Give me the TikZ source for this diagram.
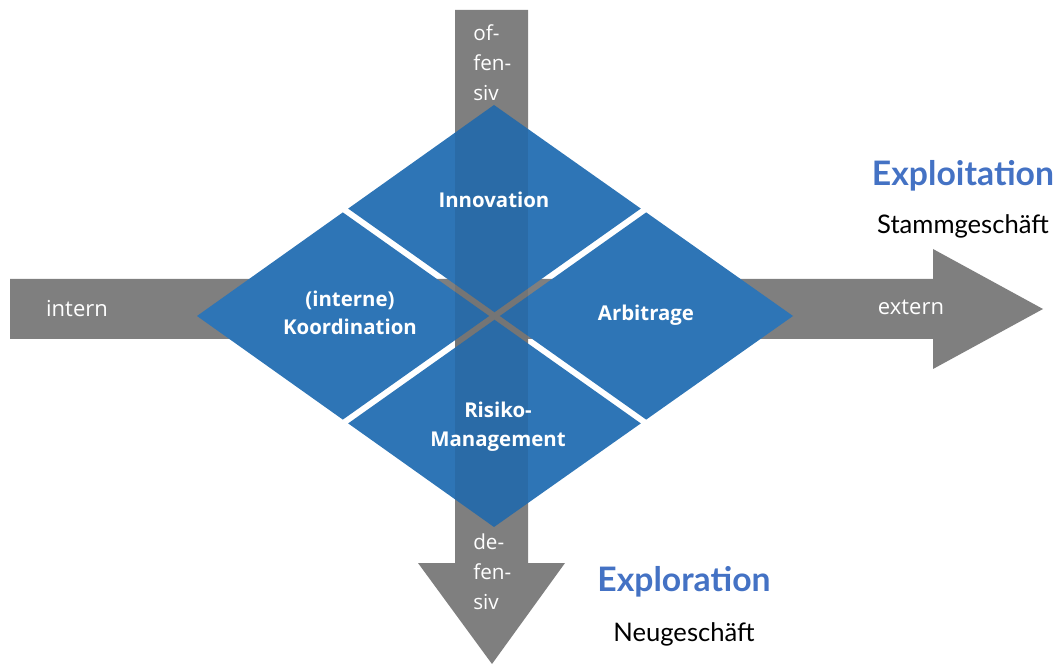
\documentclass[tikz,border=0pt]{standalone}
\usepackage{fontspec}
\setmainfont{Open Sans}
\newfontfamily\latofont{Lato}
\usetikzlibrary{calc}
\definecolor{arrowgray}{HTML}{7F7F7F}
\definecolor{diablue}{HTML}{2E75B6}
\definecolor{headblue}{HTML}{4472C4}
\tikzset{
  arrowshape/.style={fill=arrowgray},
  piece/.style={fill=diablue},
  shaftveil/.style={fill=black, fill opacity=0.08},
  piecelabel/.style={text=white, font=\fontsize{15.3}{21.5}\selectfont\bfseries, align=center, inner sep=0pt},
  axislabel/.style={text=white, font=\fontsize{16.5}{22}\selectfont, inner sep=0pt},
  vlabel/.style={text=white, font=\fontsize{15.5}{22.5}\selectfont, align=left, inner sep=0pt, anchor=north west},
  headline/.style={text=headblue, font=\latofont\fontsize{25.3}{28}\selectfont\bfseries, inner sep=0pt},
  subline/.style={text=black, font=\latofont\fontsize{19.2}{22}\selectfont, inner sep=0pt}
}
\begin{document}
\begin{tikzpicture}[x=0.75pt,y=-0.75pt]
\useasboundingbox (0,0) rectangle (1057,666);
% horizontal arrow
\fill[arrowshape] (10,279) -- (933,279) -- (933,249) -- (1043,309) -- (933,369) -- (933,339) -- (10,339) -- cycle;
% vertical arrow
\fill[arrowshape] (455,10) -- (528,10) -- (528,563) -- (565,563) -- (492,664) -- (418,563) -- (455,563) -- cycle;
% diamond geometry
\coordinate (T) at (494,105);
\coordinate (R) at (793,316);
\coordinate (B) at (494,527);
\coordinate (L) at (197,316);
\coordinate (C) at (494.5,316);
\coordinate (TR) at ($(T)!0.5!(R)$);
\coordinate (RB) at ($(R)!0.5!(B)$);
\coordinate (BL) at ($(B)!0.5!(L)$);
\coordinate (LT) at ($(L)!0.5!(T)$);
\def\sk{0.982}
\fill[piece] (T) -- ($(T)!\sk!(TR)$) -- ($(T)!\sk!(C)$) -- ($(T)!\sk!(LT)$) -- cycle;
\fill[piece] (R) -- ($(R)!\sk!(RB)$) -- ($(R)!\sk!(C)$) -- ($(R)!\sk!(TR)$) -- cycle;
\fill[piece] (B) -- ($(B)!\sk!(BL)$) -- ($(B)!\sk!(C)$) -- ($(B)!\sk!(RB)$) -- cycle;
\fill[piece] (L) -- ($(L)!\sk!(LT)$) -- ($(L)!\sk!(C)$) -- ($(L)!\sk!(BL)$) -- cycle;
% vertical shaft showing faintly through the diamond
\begin{scope}
\clip (T) -- (R) -- (B) -- (L) -- cycle;
\fill[shaftveil] (455,10) rectangle (528,563);
\end{scope}
% piece labels
\node[piecelabel] (innov) at (494,200) {Innovation};
\node[piecelabel] (koord) at (350,313) {(interne)\\Koordination};
\node[piecelabel] (arbi) at (646,315) {Arbitrage};
\node[piecelabel] (risk) at (498,427) {Risiko-\\Management};
% axis labels
\node[axislabel] (intern) at (77,309) {intern};
\node[axislabel] (extern) at (911,307) {extern};
\node[vlabel] (off) at (473,24) {of-\\fen-\\siv};
\node[vlabel] (def) at (473,534) {de-\\fen-\\siv};
% headings
\node[headline] (exploit) at (963,176) {Exploitation};
\node[subline] (stamm) at (963,226) {Stammgeschäft};
\node[headline] (explor) at (684,582) {Exploration};
\node[subline] (neu) at (684,634) {Neugeschäft};
\end{tikzpicture}
\end{document}
